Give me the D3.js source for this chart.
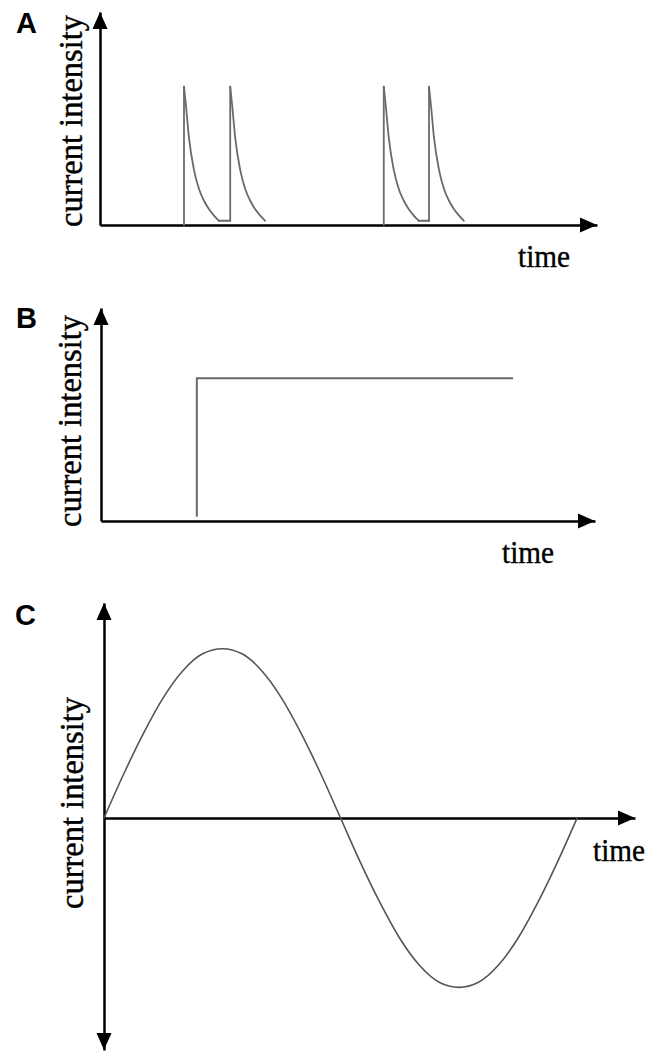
<!DOCTYPE html>
<html>
<head>
<meta charset="utf-8">
<script src="https://cdn.jsdelivr.net/npm/d3@7"></script>
<style>
  html, body { margin: 0; padding: 0; background: #fff; }
  svg { display: block; }
</style>
</head>
<body>
<div id="chart"></div>
<script>
const width = 657, height = 1055;

const panelLetters = ["A", "B", "C"];
const yLabel = "current intensity";
const xLabel = "time";

// A: pairs of spikes with a fast decay back to baseline
const spikeGroups = [[16.9, 26.2], [57.1, 66.2]];
const decayOffsets = [0, 0.4, 1, 2, 3, 4, 5, 6, 7];
const decayLevels = [0.65, 0.56, 0.41, 0.26, 0.17, 0.115, 0.075, 0.045, 0.02];
const restLevel = 0.02;

// B: single step
const stepTimes = [19.4, 19.4, 83.4];
const stepLevels = [0.02, 0.67, 0.67];

// C: one full period of alternating current
const sineTimes = [0, 3.71, 7.43, 11.14, 14.85, 18.56, 22.28, 25.99, 29.7, 33.41, 37.13, 40.84,
  44.55, 48.26, 51.98, 55.69, 59.4, 63.11, 66.83, 70.54, 74.25, 77.96, 81.68, 85.39, 89.1];
const sineLevels = [0, 0.26, 0.5, 0.71, 0.87, 0.97, 1, 0.97, 0.87, 0.71, 0.5, 0.26,
  0, -0.26, -0.5, -0.71, -0.87, -0.97, -1, -0.97, -0.87, -0.71, -0.5, -0.26, 0];

const traceColor = "#6a6a6a";

const svg = d3.select("#chart").append("svg")
  .attr("width", width)
  .attr("height", height);

// panel layouts
const panels = [
  {x: d3.scaleLinear().domain([0, 100]).range([100, 597]),
   y: d3.scaleLinear().domain([0, 1]).range([225, 12]),
   letter: [16, 33], ylab: [82, 121], xlab: [518, 267], bothEnds: false},
  {x: d3.scaleLinear().domain([0, 100]).range([101, 595]),
   y: d3.scaleLinear().domain([0, 1]).range([521, 308]),
   letter: [16, 328], ylab: [81, 421], xlab: [502, 563], bothEnds: false},
  {x: d3.scaleLinear().domain([0, 100]).range([104, 635]),
   y: d3.scaleLinear().domain([-1.37, 1.27]).range([1050, 603]),
   letter: [15, 625], ylab: [83, 803], xlab: [593, 861], bothEnds: true}
];

function arrow(g, tx, ty, angle) {
  // triangle with tip at (tx, ty), pointing along angle (deg, 0 = right)
  g.append("path")
    .attr("d", "M0,0L-17,-7.5L-17,7.5Z")
    .attr("transform", `translate(${tx},${ty}) rotate(${angle})`)
    .attr("fill", "#000");
}

panels.forEach((p, i) => {
  const g = svg.append("g");
  const x = p.x, y = p.y;
  const y0 = y(0), x0 = x(0);

  // axes without ticks
  g.append("g")
    .attr("transform", `translate(0,${y0})`)
    .call(d3.axisBottom(x).tickValues([]).tickSizeOuter(0));
  g.append("g")
    .attr("transform", `translate(${x0},0)`)
    .call(d3.axisLeft(y).tickValues([]).tickSizeOuter(0));
  g.selectAll(".domain").attr("stroke", "#000").attr("stroke-width", 2.5);

  arrow(g, x.range()[1], y0, 0);
  arrow(g, x0, y.range()[1], -90);
  if (p.bothEnds) arrow(g, x0, y.range()[0], 90);

  g.append("text")
    .attr("x", p.letter[0]).attr("y", p.letter[1])
    .attr("font-family", "Liberation Sans, Arial, sans-serif")
    .attr("font-weight", "bold")
    .attr("font-size", 29)
    .text(panelLetters[i]);

  g.append("text")
    .attr("transform", `translate(${p.ylab[0]},${p.ylab[1]}) rotate(-90)`)
    .attr("text-anchor", "middle")
    .attr("font-family", "Liberation Serif, Times New Roman, serif")
    .attr("font-size", 33)
    .attr("stroke", "#000")
    .attr("stroke-width", 0.4)
    .attr("textLength", 212)
    .attr("lengthAdjust", "spacingAndGlyphs")
    .text(yLabel);

  g.append("text")
    .attr("x", p.xlab[0]).attr("y", p.xlab[1])
    .attr("font-family", "Liberation Serif, Times New Roman, serif")
    .attr("font-size", 32)
    .attr("stroke", "#000")
    .attr("stroke-width", 0.4)
    .attr("textLength", 52)
    .attr("lengthAdjust", "spacingAndGlyphs")
    .text(xLabel);

  p.g = g;
});

// ---- A: spikes
{
  const {x, y, g} = panels[0];
  const straight = d3.line().x(d => x(d[0])).y(d => y(d[1]));
  const smooth = d3.line().x(d => x(d[0])).y(d => y(d[1])).curve(d3.curveMonotoneX);
  const tr = g.append("g")
    .attr("fill", "none")
    .attr("stroke", traceColor)
    .attr("stroke-width", 1.8)
    .attr("stroke-linecap", "round")
    .attr("stroke-linejoin", "round");

  spikeGroups.forEach(group => {
    group.forEach((t, k) => {
      const from = k === 0 ? 0 : restLevel;
      tr.append("path").attr("d", straight([[t, from], [t, decayLevels[0]]]));
      const decay = decayOffsets.map((o, j) => [t + o, decayLevels[j]]);
      tr.append("path").attr("d", smooth(decay));
      if (k < group.length - 1) {
        const end = decay[decay.length - 1];
        tr.append("path").attr("d", straight([end, [group[k + 1], restLevel]]));
      }
    });
  });
}

// ---- B: step
{
  const {x, y, g} = panels[1];
  g.append("path")
    .datum(stepTimes.map((t, j) => [t, stepLevels[j]]))
    .attr("fill", "none")
    .attr("stroke", traceColor)
    .attr("stroke-width", 2)
    .attr("d", d3.line().x(d => x(d[0])).y(d => y(d[1])));
}

// ---- C: sine
{
  const {x, y, g} = panels[2];
  g.append("path")
    .datum(sineTimes.map((t, j) => [t, sineLevels[j]]))
    .attr("fill", "none")
    .attr("stroke", "#555")
    .attr("stroke-width", 1.6)
    .attr("d", d3.line().x(d => x(d[0])).y(d => y(d[1])).curve(d3.curveMonotoneX));
}
</script>
</body>
</html>
